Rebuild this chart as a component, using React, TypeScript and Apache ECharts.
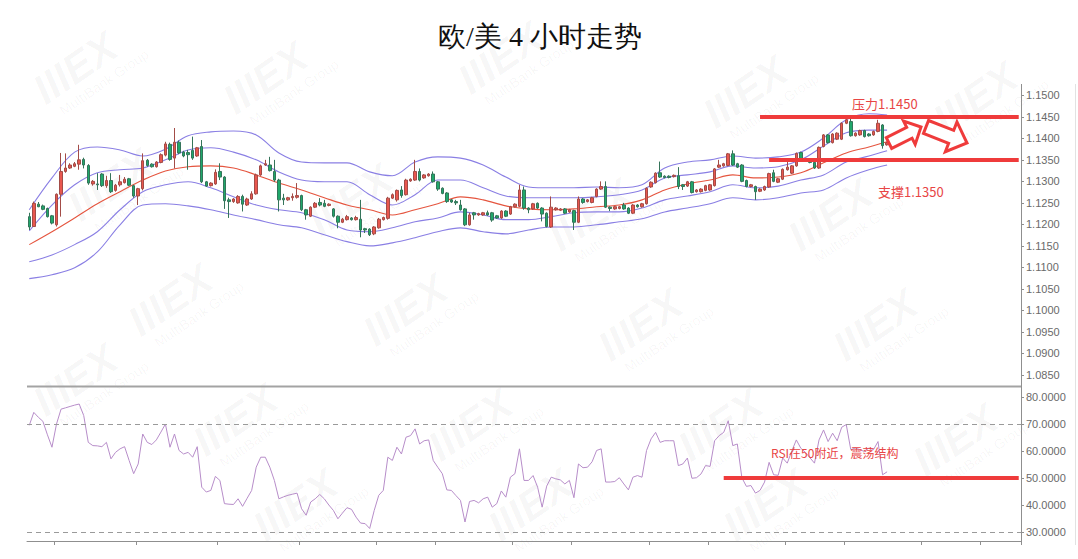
import React, { useEffect, useRef } from 'react';
import * as echarts from 'echarts';

// ---------- data ----------
const SLOT_COUNT = 219; // candle slots on the x axis (190 used, empty space at right)
const categories: string[] = Array.from({ length: SLOT_COUNT }, (_, i) => String(i));

// [open, close, low, high]
const candles: number[][] = [
  [1.1218, 1.1194, 1.1187, 1.1227], [1.1195, 1.1249, 1.1194, 1.1253], [1.1247, 1.1241, 1.1240, 1.1252], [1.1243, 1.1235, 1.1233, 1.1246],
  [1.1237, 1.1218, 1.1216, 1.1239], [1.1220, 1.1203, 1.1200, 1.1222], [1.1199, 1.1270, 1.1195, 1.1272], [1.1270, 1.1323, 1.1218, 1.1366],
  [1.1323, 1.1331, 1.1320, 1.1365], [1.1331, 1.1338, 1.1329, 1.1342], [1.1335, 1.1341, 1.1333, 1.1345], [1.1340, 1.1350, 1.1327, 1.1385],
  [1.1351, 1.1338, 1.1330, 1.1355], [1.1337, 1.1296, 1.1292, 1.1340], [1.1294, 1.1300, 1.1290, 1.1303], [1.1294, 1.1292, 1.1280, 1.1319],
  [1.1317, 1.1290, 1.1287, 1.1319], [1.1290, 1.1302, 1.1285, 1.1313], [1.1302, 1.1276, 1.1273, 1.1319], [1.1279, 1.1291, 1.1276, 1.1294],
  [1.1292, 1.1299, 1.1288, 1.1315], [1.1297, 1.1305, 1.1295, 1.1310], [1.1306, 1.1291, 1.1289, 1.1308], [1.1290, 1.1266, 1.1262, 1.1292],
  [1.1266, 1.1283, 1.1245, 1.1285], [1.1283, 1.1348, 1.1279, 1.1365], [1.1349, 1.1337, 1.1334, 1.1352], [1.1340, 1.1334, 1.1332, 1.1342],
  [1.1334, 1.1345, 1.1332, 1.1347], [1.1344, 1.1362, 1.1342, 1.1365], [1.1361, 1.1387, 1.1358, 1.1392], [1.1386, 1.1351, 1.1348, 1.1390],
  [1.1354, 1.1391, 1.1330, 1.1424], [1.1391, 1.1366, 1.1363, 1.1395], [1.1368, 1.1359, 1.1356, 1.1371], [1.1367, 1.1362, 1.1327, 1.1373],
  [1.1372, 1.1354, 1.1350, 1.1404], [1.1359, 1.1378, 1.1357, 1.1380], [1.1381, 1.1299, 1.1296, 1.1396], [1.1299, 1.1289, 1.1287, 1.1301],
  [1.1290, 1.1296, 1.1288, 1.1298], [1.1294, 1.1321, 1.1292, 1.1328], [1.1323, 1.1310, 1.1303, 1.1342], [1.1310, 1.1255, 1.1236, 1.1312],
  [1.1257, 1.1253, 1.1215, 1.1262], [1.1253, 1.1259, 1.1250, 1.1261], [1.1250, 1.1265, 1.1248, 1.1268], [1.1265, 1.1247, 1.1230, 1.1269],
  [1.1245, 1.1259, 1.1243, 1.1262], [1.1259, 1.1271, 1.1257, 1.1277], [1.1271, 1.1315, 1.1269, 1.1318], [1.1315, 1.1336, 1.1313, 1.1339],
  [1.1338, 1.1341, 1.1336, 1.1350], [1.1338, 1.1325, 1.1323, 1.1357], [1.1323, 1.1303, 1.1299, 1.1350], [1.1303, 1.1257, 1.1230, 1.1306],
  [1.1261, 1.1257, 1.1245, 1.1271], [1.1257, 1.1262, 1.1255, 1.1264], [1.1262, 1.1265, 1.1255, 1.1272], [1.1263, 1.1267, 1.1260, 1.1296],
  [1.1267, 1.1234, 1.1231, 1.1269], [1.1234, 1.1222, 1.1211, 1.1236], [1.1219, 1.1240, 1.1217, 1.1242], [1.1240, 1.1249, 1.1238, 1.1252],
  [1.1251, 1.1245, 1.1242, 1.1261], [1.1249, 1.1242, 1.1240, 1.1257], [1.1244, 1.1247, 1.1242, 1.1249], [1.1236, 1.1219, 1.1216, 1.1238],
  [1.1219, 1.1205, 1.1191, 1.1221], [1.1205, 1.1212, 1.1203, 1.1215], [1.1211, 1.1218, 1.1209, 1.1222], [1.1215, 1.1211, 1.1209, 1.1217],
  [1.1211, 1.1216, 1.1209, 1.1220], [1.1212, 1.1187, 1.1170, 1.1257], [1.1190, 1.1187, 1.1180, 1.1192], [1.1189, 1.1176, 1.1173, 1.1191],
  [1.1178, 1.1194, 1.1175, 1.1196], [1.1192, 1.1212, 1.1190, 1.1215], [1.1211, 1.1216, 1.1209, 1.1218], [1.1214, 1.1261, 1.1211, 1.1264],
  [1.1261, 1.1269, 1.1259, 1.1272], [1.1257, 1.1279, 1.1253, 1.1281], [1.1280, 1.1267, 1.1262, 1.1289], [1.1269, 1.1303, 1.1267, 1.1306],
  [1.1301, 1.1305, 1.1299, 1.1307], [1.1303, 1.1323, 1.1301, 1.1350], [1.1323, 1.1303, 1.1300, 1.1330], [1.1308, 1.1315, 1.1306, 1.1317],
  [1.1313, 1.1317, 1.1311, 1.1319], [1.1317, 1.1299, 1.1297, 1.1323], [1.1299, 1.1282, 1.1278, 1.1301], [1.1284, 1.1272, 1.1270, 1.1286],
  [1.1273, 1.1253, 1.1250, 1.1275], [1.1257, 1.1252, 1.1250, 1.1259], [1.1253, 1.1250, 1.1245, 1.1257], [1.1245, 1.1234, 1.1232, 1.1257],
  [1.1236, 1.1199, 1.1196, 1.1238], [1.1199, 1.1222, 1.1197, 1.1227], [1.1227, 1.1222, 1.1211, 1.1229], [1.1222, 1.1225, 1.1220, 1.1227],
  [1.1222, 1.1227, 1.1220, 1.1229], [1.1227, 1.1222, 1.1220, 1.1232], [1.1227, 1.1210, 1.1206, 1.1229], [1.1220, 1.1215, 1.1213, 1.1222],
  [1.1215, 1.1231, 1.1213, 1.1233], [1.1231, 1.1219, 1.1217, 1.1233], [1.1224, 1.1241, 1.1222, 1.1243], [1.1241, 1.1247, 1.1239, 1.1249],
  [1.1242, 1.1280, 1.1240, 1.1292], [1.1280, 1.1238, 1.1234, 1.1288], [1.1238, 1.1234, 1.1226, 1.1240], [1.1236, 1.1248, 1.1234, 1.1250],
  [1.1249, 1.1238, 1.1236, 1.1251], [1.1238, 1.1224, 1.1207, 1.1240], [1.1226, 1.1195, 1.1193, 1.1228], [1.1194, 1.1240, 1.1192, 1.1265],
  [1.1234, 1.1238, 1.1232, 1.1240], [1.1233, 1.1236, 1.1231, 1.1238], [1.1236, 1.1226, 1.1224, 1.1238], [1.1229, 1.1234, 1.1227, 1.1236],
  [1.1232, 1.1205, 1.1187, 1.1234], [1.1205, 1.1259, 1.1203, 1.1265], [1.1259, 1.1251, 1.1248, 1.1261], [1.1253, 1.1257, 1.1251, 1.1259],
  [1.1251, 1.1262, 1.1249, 1.1264], [1.1265, 1.1282, 1.1263, 1.1284], [1.1282, 1.1288, 1.1280, 1.1300], [1.1288, 1.1240, 1.1238, 1.1300],
  [1.1240, 1.1237, 1.1231, 1.1242], [1.1236, 1.1241, 1.1234, 1.1243], [1.1237, 1.1241, 1.1235, 1.1243], [1.1245, 1.1236, 1.1234, 1.1250],
  [1.1238, 1.1226, 1.1224, 1.1240], [1.1226, 1.1245, 1.1224, 1.1247], [1.1245, 1.1241, 1.1239, 1.1247], [1.1241, 1.1248, 1.1239, 1.1250],
  [1.1248, 1.1284, 1.1246, 1.1286], [1.1287, 1.1298, 1.1285, 1.1300], [1.1297, 1.1319, 1.1295, 1.1321], [1.1320, 1.1310, 1.1308, 1.1346],
  [1.1312, 1.1309, 1.1307, 1.1314], [1.1312, 1.1309, 1.1307, 1.1314], [1.1311, 1.1314, 1.1309, 1.1316], [1.1313, 1.1288, 1.1282, 1.1333],
  [1.1292, 1.1288, 1.1280, 1.1294], [1.1289, 1.1299, 1.1287, 1.1301], [1.1299, 1.1274, 1.1272, 1.1301], [1.1276, 1.1280, 1.1274, 1.1282],
  [1.1276, 1.1282, 1.1274, 1.1284], [1.1279, 1.1290, 1.1277, 1.1292], [1.1280, 1.1292, 1.1278, 1.1294], [1.1290, 1.1329, 1.1288, 1.1331],
  [1.1333, 1.1338, 1.1331, 1.1350], [1.1336, 1.1341, 1.1334, 1.1343], [1.1337, 1.1364, 1.1335, 1.1366], [1.1364, 1.1338, 1.1336, 1.1372],
  [1.1341, 1.1333, 1.1331, 1.1343], [1.1338, 1.1300, 1.1298, 1.1340], [1.1302, 1.1288, 1.1286, 1.1304], [1.1288, 1.1292, 1.1286, 1.1294],
  [1.1288, 1.1276, 1.1257, 1.1290], [1.1277, 1.1282, 1.1275, 1.1284], [1.1280, 1.1288, 1.1278, 1.1290], [1.1287, 1.1318, 1.1285, 1.1320],
  [1.1320, 1.1300, 1.1298, 1.1327], [1.1298, 1.1306, 1.1296, 1.1308], [1.1305, 1.1328, 1.1303, 1.1330], [1.1327, 1.1333, 1.1325, 1.1345],
  [1.1319, 1.1336, 1.1317, 1.1338], [1.1336, 1.1365, 1.1334, 1.1367], [1.1367, 1.1351, 1.1349, 1.1369], [1.1351, 1.1350, 1.1348, 1.1353],
  [1.1350, 1.1344, 1.1342, 1.1352], [1.1344, 1.1331, 1.1329, 1.1346], [1.1331, 1.1379, 1.1329, 1.1381], [1.1381, 1.1408, 1.1379, 1.1410],
  [1.1408, 1.1390, 1.1388, 1.1410], [1.1390, 1.1410, 1.1388, 1.1412], [1.1398, 1.1412, 1.1396, 1.1414], [1.1398, 1.1435, 1.1396, 1.1437],
  [1.1435, 1.1443, 1.1433, 1.1447], [1.1439, 1.1406, 1.1404, 1.1445], [1.1406, 1.1412, 1.1404, 1.1414], [1.1408, 1.1418, 1.1406, 1.1420],
  [1.1418, 1.1404, 1.1402, 1.1420], [1.1410, 1.1406, 1.1404, 1.1412], [1.1408, 1.1416, 1.1406, 1.1418], [1.1416, 1.1435, 1.1414, 1.1443],
  [1.1431, 1.1383, 1.1376, 1.1433], [1.1385, 1.1390, 1.1383, 1.1392],
];

// Bollinger-type bands, read at these candle positions
const bandIdx = [0, 5, 10, 15, 20, 25, 30, 35, 40, 45, 50, 55, 60, 65, 70, 75, 80, 85, 90, 95, 100, 105, 110, 115, 120, 125, 130, 135, 140, 145, 150, 155, 160, 165, 170, 175, 180, 185, 189];
const upperOuter = [1.1234, 1.1308, 1.1368, 1.1380, 1.1373, 1.1359, 1.1375, 1.1406, 1.1415, 1.1417, 1.1408, 1.1366, 1.1345, 1.1343, 1.1343, 1.1322, 1.1313, 1.1345, 1.1357, 1.1354, 1.1338, 1.1310, 1.1287, 1.1285, 1.1285, 1.1287, 1.1285, 1.1292, 1.1331, 1.1345, 1.1350, 1.1359, 1.1354, 1.1357, 1.1368, 1.1401, 1.1443, 1.1457, 1.1454];
const upperInner = [1.1185, 1.1245, 1.1292, 1.1320, 1.1327, 1.1331, 1.1350, 1.1373, 1.1378, 1.1368, 1.1350, 1.1322, 1.1303, 1.1299, 1.1299, 1.1269, 1.1245, 1.1269, 1.1303, 1.1303, 1.1285, 1.1266, 1.1262, 1.1262, 1.1262, 1.1264, 1.1269, 1.1280, 1.1308, 1.1315, 1.1322, 1.1336, 1.1331, 1.1334, 1.1350, 1.1382, 1.1413, 1.1419, 1.1419];
const middleBand = [1.1153, 1.1183, 1.1215, 1.1248, 1.1276, 1.1303, 1.1324, 1.1334, 1.1336, 1.1331, 1.1315, 1.1296, 1.1280, 1.1262, 1.1245, 1.1234, 1.1222, 1.1234, 1.1248, 1.1264, 1.1257, 1.1243, 1.1236, 1.1234, 1.1236, 1.1241, 1.1245, 1.1257, 1.1280, 1.1294, 1.1303, 1.1315, 1.1308, 1.1310, 1.1320, 1.1343, 1.1366, 1.1380, 1.1392];
const lowerInner = [1.1113, 1.1129, 1.1153, 1.1183, 1.1234, 1.1276, 1.1292, 1.1299, 1.1285, 1.1264, 1.1245, 1.1234, 1.1227, 1.1211, 1.1187, 1.1183, 1.1192, 1.1206, 1.1215, 1.1229, 1.1222, 1.1211, 1.1211, 1.1218, 1.1227, 1.1229, 1.1229, 1.1238, 1.1257, 1.1266, 1.1276, 1.1292, 1.1285, 1.1289, 1.1303, 1.1315, 1.1345, 1.1359, 1.1371];
const lowerOuter = [1.1074, 1.1083, 1.1099, 1.1136, 1.1199, 1.1245, 1.1248, 1.1243, 1.1234, 1.1222, 1.1211, 1.1199, 1.1192, 1.1176, 1.1160, 1.1150, 1.1157, 1.1169, 1.1183, 1.1192, 1.1183, 1.1178, 1.1187, 1.1194, 1.1194, 1.1199, 1.1206, 1.1213, 1.1229, 1.1238, 1.1248, 1.1262, 1.1257, 1.1262, 1.1273, 1.1280, 1.1308, 1.1327, 1.1338];

const rsi = [
  69.5, 74.3, 72.5, 71.0, 66.0, 61.4, 70.0, 75.5, 76.0, 76.5,
  77.0, 77.4, 73.1, 63.2, 62.0, 61.9, 61.6, 63.2, 57.1, 59.5,
  60.8, 61.6, 56.5, 51.6, 55.2, 66.3, 63.2, 62.4, 64.1, 67.0,
  70.0, 61.4, 66.3, 60.2, 58.9, 59.5, 57.7, 61.6, 46.6, 44.8,
  45.4, 50.6, 49.1, 40.5, 40.3, 40.2, 42.3, 39.5, 42.5, 45.4,
  54.0, 57.7, 57.7, 54.0, 49.1, 42.3, 43.0, 43.6, 44.0, 44.4,
  38.6, 36.2, 41.1, 42.3, 43.9, 42.3, 40.0, 38.0, 34.9, 37.0,
  39.0, 38.4, 35.5, 33.3, 33.1, 31.3, 38.0, 43.6, 45.4, 57.7,
  56.5, 61.4, 58.9, 65.1, 65.7, 68.2, 62.6, 63.8, 64.1, 56.5,
  54.0, 51.6, 45.6, 45.4, 43.5, 41.7, 33.7, 41.3, 41.7, 40.8,
  42.3, 42.9, 39.2, 40.5, 45.2, 42.9, 50.3, 51.6, 60.8, 49.1,
  49.1, 50.9, 46.6, 39.2, 47.0, 50.3, 49.7, 49.3, 47.8, 49.1,
  42.7, 55.2, 53.8, 54.0, 56.0, 60.2, 60.8, 48.5, 48.5, 48.7,
  50.1, 47.8, 45.6, 50.3, 50.9, 50.3, 60.2, 64.5, 66.9, 63.2,
  63.8, 63.8, 63.8, 54.6, 55.2, 57.4, 49.9, 50.1, 51.5, 54.6,
  54.3, 63.8, 65.7, 66.9, 71.2, 62.0, 62.6, 50.1, 46.9, 47.2,
  44.4, 45.4, 48.5, 55.8, 51.2, 51.0, 57.4, 55.5, 60.0, 64.1,
  61.0, 59.5, 57.5, 55.5, 64.1, 67.8, 63.5, 66.6, 63.8, 68.8,
  69.8, 60.5, 61.1, 60.5, 59.8, 61.1, 60.5, 63.5, 51.2, 52.3,
];

// annotation levels
const resistance = 1.145;
const support = 1.135;
const rsiMid = 50;
const rsiBands = [30, 70];
const resistanceFrom = 161;
const supportFrom = 163;
const rsiLineFrom = 153;
const annotationTo = 218;

// bottom axis tick positions (category indices)
const bottomTicks = [6, 24, 42, 60, 77, 90, 107, 120, 137, 150, 167, 180, 197, 210];

const priceTicks = { min: 1.085, max: 1.15, interval: 0.005 };
const rsiTicks = { min: 30, max: 80, interval: 10 };

// ---------- styling ----------
const RED = '#ef3b3b';
const AXIS = '#8f8f8f';
const BAND_PURPLE = '#8a7fe4';
const MID_RED = '#e5553f';

function bandSeries(values: number[], color: string) {
  return {
    type: 'line',
    xAxisIndex: 0,
    yAxisIndex: 0,
    data: bandIdx.map((ix, k) => [String(ix), values[k]]),
    smooth: 0.35,
    symbol: 'none',
    silent: true,
    z: 2,
    lineStyle: { color, width: 1.1 },
  };
}

function arrowPoints(tail: number[], tip: number[], shaftHalf: number, headHalf: number, headLen: number) {
  const dx = tip[0] - tail[0];
  const dy = tip[1] - tail[1];
  const len = Math.sqrt(dx * dx + dy * dy);
  const ux = dx / len, uy = dy / len;
  const nx = -uy, ny = ux;
  const neck = [tip[0] - ux * headLen, tip[1] - uy * headLen];
  return [
    [tail[0] - nx * shaftHalf, tail[1] - ny * shaftHalf],
    [neck[0] - nx * shaftHalf, neck[1] - ny * shaftHalf],
    [neck[0] - nx * headHalf, neck[1] - ny * headHalf],
    tip,
    [neck[0] + nx * headHalf, neck[1] + ny * headHalf],
    [neck[0] + nx * shaftHalf, neck[1] + ny * shaftHalf],
    [tail[0] + nx * shaftHalf, tail[1] + ny * shaftHalf],
  ];
}

// faint "MultiBank Group" watermark positions (kept inside the page)
const watermarkSpots = [
  [75, 68], [265, 78], [500, 58], [745, 92], [975, 98],
  [110, 185], [350, 200], [590, 215], [830, 215],
  [170, 300], [405, 310], [640, 325], [875, 325],
  [75, 380], [235, 420], [470, 425], [720, 425], [955, 440],
  [295, 505], [530, 505], [765, 505],
];

function watermark(x: number, y: number) {
  const fill = 'rgba(0,0,0,0.04)';
  return {
    type: 'group',
    x,
    y,
    rotation: 0.6,
    silent: true,
    z: 0,
    children: [
      {
        type: 'text',
        x: 0,
        y: 0,
        style: { text: 'IIIEX', fontSize: 42, fontWeight: 900, fontStyle: 'italic', fontFamily: 'Liberation Sans', fill, textAlign: 'center', textVerticalAlign: 'middle' },
      },
      {
        type: 'text',
        x: 16,
        y: 28,
        style: { text: 'MultiBank Group', fontSize: 14, fontFamily: 'Liberation Sans', fill, textAlign: 'center', textVerticalAlign: 'middle' },
      },
    ],
  };
}

const redLine = (from: number, to: number, value: number) => [
  { coord: [String(from), value] },
  { coord: [String(to), value] },
];

const option: any = {
  animation: false,
  backgroundColor: '#ffffff',
  title: {
    text: '欧/美 4 小时走势',
    left: 535,
    top: 17,
    textAlign: 'center',
    textStyle: { fontSize: 28, fontWeight: 'normal', fontFamily: 'serif', color: '#111' },
  },
  grid: [
    { left: 27, right: 57, top: 95.3, height: 279.7 },
    { left: 27, right: 57, top: 397, height: 135 },
  ],
  xAxis: [
    {
      type: 'category',
      gridIndex: 0,
      data: categories,
      boundaryGap: true,
      axisLine: { show: false },
      axisTick: { show: false },
      axisLabel: { show: false },
      splitLine: { show: false },
    },
    {
      type: 'category',
      gridIndex: 1,
      data: categories,
      boundaryGap: true,
      offset: 9,
      axisLine: { show: true, lineStyle: { color: AXIS, width: 1 } },
      axisTick: {
        show: true,
        length: 4,
        interval: (index: number) => bottomTicks.includes(index),
        lineStyle: { color: AXIS },
      },
      axisLabel: { show: false },
      splitLine: { show: false },
    },
  ],
  yAxis: [
    {
      type: 'value',
      gridIndex: 0,
      position: 'right',
      min: priceTicks.min,
      max: priceTicks.max,
      interval: priceTicks.interval,
      axisLine: { show: true, lineStyle: { color: AXIS } },
      axisTick: { show: true, length: 3, lineStyle: { color: AXIS } },
      axisLabel: { color: '#6a6a6a', fontSize: 11, fontFamily: 'Liberation Sans', margin: 5, formatter: (v: number) => v.toFixed(4) },
      splitLine: { show: false },
    },
    {
      type: 'value',
      gridIndex: 1,
      position: 'right',
      min: rsiTicks.min,
      max: rsiTicks.max,
      interval: rsiTicks.interval,
      axisLine: { show: true, lineStyle: { color: AXIS } },
      axisTick: { show: true, length: 3, lineStyle: { color: AXIS } },
      axisLabel: { color: '#6a6a6a', fontSize: 11, fontFamily: 'Liberation Sans', margin: 5, formatter: (v: number) => v.toFixed(4) },
      splitLine: { show: false },
    },
  ],
  series: [
    bandSeries(upperOuter, BAND_PURPLE),
    bandSeries(upperInner, BAND_PURPLE),
    bandSeries(middleBand, MID_RED),
    bandSeries(lowerInner, BAND_PURPLE),
    bandSeries(lowerOuter, BAND_PURPLE),
    {
      type: 'candlestick',
      xAxisIndex: 0,
      yAxisIndex: 0,
      data: candles,
      barWidth: 3,
      z: 3,
      silent: true,
      itemStyle: {
        color: '#e9574f',
        color0: '#20a86b',
        borderColor: '#a34c47',
        borderColor0: '#35745a',
        borderWidth: 1,
      },
      markLine: {
        silent: true,
        symbol: ['none', 'none'],
        label: { show: false },
        lineStyle: { color: RED, width: 4, type: 'solid' },
        data: [redLine(resistanceFrom, annotationTo, resistance), redLine(supportFrom, annotationTo, support)],
      },
    },
    {
      type: 'line',
      xAxisIndex: 1,
      yAxisIndex: 1,
      data: rsi,
      symbol: 'none',
      silent: true,
      lineStyle: { color: '#b78dc9', width: 1 },
      markLine: {
        silent: true,
        symbol: ['none', 'none'],
        label: { show: false },
        data: [
          ...rsiBands.map((v) => ({ yAxis: v, lineStyle: { color: '#9a9a9a', width: 1, type: [5, 4] } })),
          redLine(rsiLineFrom, annotationTo, rsiMid).map((p, k) =>
            k === 0 ? { ...p, lineStyle: { color: RED, width: 4, type: 'solid' } } : p
          ),
        ],
      },
    },
  ],
  graphic: [
    ...watermarkSpots.map(([x, y]) => watermark(x, y)),
    // panel frame
    { type: 'line', silent: true, z: 5, shape: { x1: 27, y1: 386.5, x2: 1021, y2: 386.5 }, style: { stroke: '#a3a3a3', lineWidth: 2 } },
    { type: 'line', silent: true, z: 5, shape: { x1: 1021.5, y1: 84, x2: 1021.5, y2: 545 }, style: { stroke: AXIS, lineWidth: 1 } },
    { type: 'line', silent: true, z: 5, shape: { x1: 1075.5, y1: 84, x2: 1075.5, y2: 545 }, style: { stroke: '#e2e2e2', lineWidth: 1 } },
    // annotations
    { type: 'text', z: 20, x: 852, y: 103, style: { text: '压力1.1450', fontSize: 13, fontFamily: 'Noto Sans CJK SC', fill: '#e84545', textVerticalAlign: 'middle' } },
    { type: 'text', z: 20, x: 878, y: 191, style: { text: '支撑1.1350', fontSize: 13, fontFamily: 'Noto Sans CJK SC', fill: '#e84545', textVerticalAlign: 'middle' } },
    { type: 'text', z: 20, x: 771, y: 452, style: { text: 'RSI在50附近，震荡结构', fontSize: 12, fontFamily: 'Noto Sans CJK SC', fill: '#e84545', textVerticalAlign: 'middle' } },
    { type: 'polygon', z: 20, shape: { points: arrowPoints([889, 143], [921, 127], 6, 13, 13) }, style: { fill: '#ffffff', stroke: RED, lineWidth: 3 } },
    { type: 'polygon', z: 20, shape: { points: arrowPoints([926, 127], [967, 143], 7, 16, 17) }, style: { fill: '#ffffff', stroke: RED, lineWidth: 3 } },
  ],
};

export default function App() {
  const ref = useRef<HTMLDivElement>(null);
  useEffect(() => {
    if (!ref.current) return;
    const chart = echarts.init(ref.current, null, { renderer: 'svg' });
    chart.setOption(option);
    return () => chart.dispose();
  }, []);
  return (
    <div
      ref={ref}
      style={{ position: 'fixed', left: 0, top: 0, width: 1078, height: 559, background: '#ffffff' }}
    />
  );
}
